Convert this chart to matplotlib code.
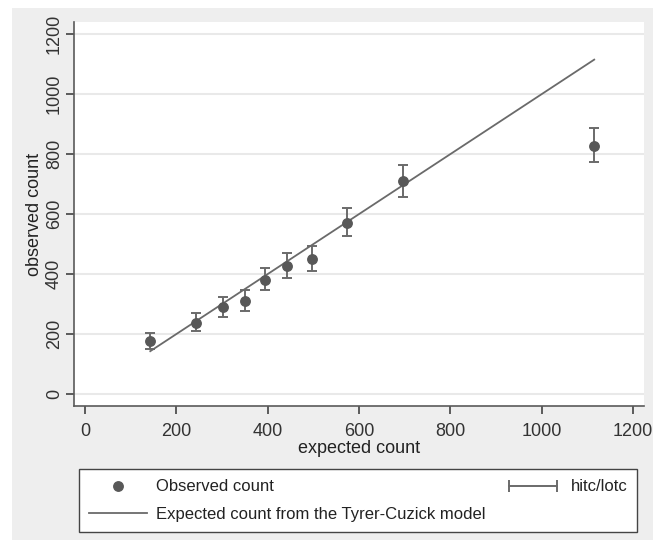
import numpy as np
import matplotlib
matplotlib.use("Agg")
import matplotlib.pyplot as plt
from matplotlib.lines import Line2D
from matplotlib.legend_handler import HandlerLine2D
from matplotlib.patches import Rectangle

plt.rcParams['font.family'] = ['Liberation Sans', 'DejaVu Sans']

# values
expected = [143, 243, 303, 351, 395, 443, 498, 574, 697, 1115]
observed = [176, 237, 290, 311, 380, 428, 450, 572, 711, 828]
hitc = [204, 270, 325, 348, 421, 470, 494, 619, 764, 888]
lotc = [149, 210, 258, 277, 346, 388, 410, 528, 658, 775]
xticks = [0, 200, 400, 600, 800, 1000, 1200]
yticks = [0, 200, 400, 600, 800, 1000, 1200]

ink = '#5a5a5a'
fig = plt.figure(figsize=(6.53, 5.4), dpi=100)
fig.patch.set_facecolor('white')
# stata's grey graph region
fig.patches.append(Rectangle((12 / 653, 0), 1, 532 / 540, transform=fig.transFigure,
                             facecolor='#eeeeee', edgecolor='none', zorder=-10))

ax = fig.add_axes([0.1133, 0.248, 0.8729, 0.711])
ax.set_facecolor('white')

obs = np.array(observed)
err = [obs - np.array(lotc), np.array(hitc) - obs]
ax.errorbar(expected, observed, yerr=err, fmt='none', ecolor='#6a6a6a',
            elinewidth=1.4, capsize=3.6, capthick=1.4, zorder=3)
ax.plot(expected, observed, 'o', color='#585858', markersize=6.8, zorder=4)
ax.plot([min(expected), max(expected)], [min(expected), max(expected)],
        color='#6a6a6a', lw=1.3, zorder=2)

ax.set_xlim(-24, 1224)
ax.set_ylim(-40, 1240)
ax.set_xticks(xticks)
ax.set_yticks(yticks)
ax.set_yticklabels([str(v) for v in yticks], rotation=90, va='center')
ax.grid(axis='y', color='#e9e9e9', lw=1.5)
ax.set_axisbelow(True)
for s in ['top', 'right']:
    ax.spines[s].set_visible(False)
for s in ['left', 'bottom']:
    ax.spines[s].set_color(ink)
    ax.spines[s].set_linewidth(1.2)
ax.tick_params(colors='#333333', labelsize=13, length=6, width=1.1, direction='out')
ax.tick_params(axis='y', pad=2)
ax.tick_params(axis='x', pad=6)
ax.set_xlabel('expected count', fontsize=13, color='#222222', labelpad=0)
ax.set_ylabel('observed count', fontsize=13, color='#222222', labelpad=2)

h_obs = Line2D([], [], ls='none', marker='o', color='#585858', markersize=6.8)
h_exp = Line2D([], [], color='#6a6a6a', lw=1.3)
h_rng = Line2D([], [], color='#6a6a6a', lw=1.4, marker='|', markersize=8, mew=1.4)
leg = fig.legend([h_obs, h_exp, h_rng],
                 ['Observed count', 'Expected count from the Tyrer-Cuzick model', 'hitc/lotc'],
                 handler_map={h_rng: HandlerLine2D(numpoints=2)},
                 loc='lower left', bbox_to_anchor=(0.121, 0.015, 0.855, 0.118),
                 mode='expand', ncol=2, fontsize=12, handlelength=3.5,
                 handletextpad=0.5, labelspacing=0.75, borderaxespad=0, borderpad=0.6,
                 fancybox=False, framealpha=1, edgecolor='#444444', numpoints=1)
leg.get_frame().set_linewidth(1.0)
for t in leg.get_texts():
    t.set_color('#222222')

fig.savefig('out.png', dpi=100)
